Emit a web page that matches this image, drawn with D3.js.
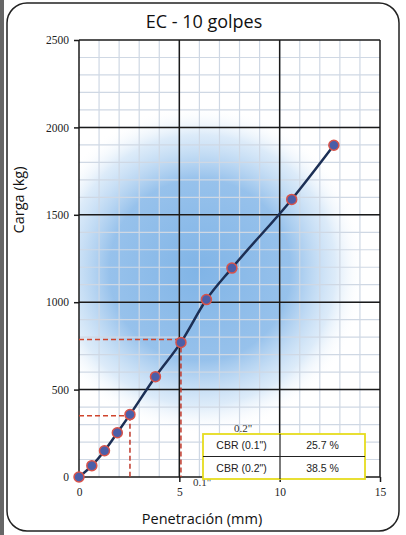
<!DOCTYPE html>
<html>
<head>
<meta charset="utf-8">
<script src="https://cdn.jsdelivr.net/npm/d3@7"></script>
<style>
  body { margin: 0; background: #fff; }
  .titulo { font-family: "Open Sans", sans-serif; font-size: 18px; fill: #111; }
  .ejeTitulo { font-family: "Open Sans", sans-serif; font-size: 14.5px; fill: #111; }
  .celda { font-family: "Liberation Sans", sans-serif; font-size: 10.5px; fill: #222; }
  .etiqueta { font-family: "Liberation Serif", serif; font-size: 11px; fill: #333; }
</style>
</head>
<body>
<div id="grafico"></div>
<script>
// datos
const penetracion = [0, 0.64, 1.27, 1.91, 2.54, 3.81, 5.08, 6.35, 7.62, 10.6, 12.7];
const carga = [0, 65, 150, 253, 357, 574, 770, 1015, 1195, 1588, 1898];
const cbrPen = [2.54, 5.08];
const cbrCarga = [350, 786];
const cbrEtiquetas = ['0.1"', '0.2"'];
const tablaFilas = ['CBR (0.1")', 'CBR (0.2")'];
const tablaValores = ['25.7 %', '38.5 %'];
const xTicks = [0, 5, 10, 15];
const yTicks = [0, 500, 1000, 1500, 2000, 2500];

const width = 406;
const height = 535;
const svg = d3.select("#grafico").append("svg")
  .attr("width", width).attr("height", height);

// marco
svg.append("rect").attr("x", 0).attr("y", 0).attr("width", 4).attr("height", height).attr("fill", "#666");
svg.append("rect")
  .attr("x", 7).attr("y", 3).attr("width", 392).attr("height", 528)
  .attr("rx", 20).attr("fill", "#fff").attr("stroke", "#222").attr("stroke-width", 1.5);

const x = d3.scaleLinear().domain([0, 15]).range([79, 380]);
const y = d3.scaleLinear().domain([0, 2500]).range([477, 40]);

const defs = svg.append("defs");
const grad = defs.append("radialGradient").attr("id", "nube")
  .attr("gradientUnits", "userSpaceOnUse")
  .attr("cx", 200).attr("cy", 270).attr("r", 165);
grad.append("stop").attr("offset", "0%").attr("stop-color", "#6aa7e2").attr("stop-opacity", 0.85);
grad.append("stop").attr("offset", "55%").attr("stop-color", "#74ade5").attr("stop-opacity", 0.75);
grad.append("stop").attr("offset", "82%").attr("stop-color", "#a8cdf0").attr("stop-opacity", 0.4);
grad.append("stop").attr("offset", "100%").attr("stop-color", "#ffffff").attr("stop-opacity", 0);

const plot = svg.append("g");
plot.append("rect")
  .attr("x", x(0)).attr("y", y(2500)).attr("width", x(15) - x(0)).attr("height", y(0) - y(2500))
  .attr("fill", "#fff");
plot.append("rect")
  .attr("x", x(0)).attr("y", y(2500)).attr("width", x(15) - x(0)).attr("height", y(0) - y(2500))
  .attr("fill", "url(#nube)");

// rejilla menor
plot.selectAll(".vmenor").data(d3.range(1, 15)).enter().append("line")
  .attr("x1", d => x(d)).attr("x2", d => x(d)).attr("y1", y(0)).attr("y2", y(2500))
  .attr("stroke", "#cfd8e4").attr("stroke-width", 1.2);
plot.selectAll(".hmenor").data(d3.range(100, 2500, 100)).enter().append("line")
  .attr("x1", x(0)).attr("x2", x(15)).attr("y1", d => y(d)).attr("y2", d => y(d))
  .attr("stroke", "#cfd8e4").attr("stroke-width", 1.2);

// rejilla mayor
plot.selectAll(".vmayor").data(xTicks).enter().append("line")
  .attr("x1", d => x(d)).attr("x2", d => x(d)).attr("y1", y(0)).attr("y2", y(2500))
  .attr("stroke", "#1a1a1a").attr("stroke-width", 1.5);
plot.selectAll(".hmayor").data(yTicks).enter().append("line")
  .attr("x1", x(0)).attr("x2", x(15)).attr("y1", d => y(d)).attr("y2", d => y(d))
  .attr("stroke", "#1a1a1a").attr("stroke-width", 1.5);

// ejes
const ejeX = svg.append("g").attr("transform", `translate(0,${y(0)})`)
  .call(d3.axisBottom(x).tickValues(xTicks).tickFormat(d3.format("d")).tickSize(5).tickPadding(6));
const ejeY = svg.append("g").attr("transform", `translate(${x(0)},0)`)
  .call(d3.axisLeft(y).tickValues(yTicks).tickFormat(d3.format("d")).tickSize(5).tickPadding(5));
[ejeX, ejeY].forEach(g => {
  g.select(".domain").remove();
  g.selectAll(".tick line").attr("stroke", "#1a1a1a").attr("stroke-width", 1.5);
  g.selectAll(".tick text")
    .attr("font-family", "'Liberation Serif', serif")
    .attr("font-size", 11.5).attr("fill", "#222");
});

// lineas CBR
cbrPen.forEach((p, i) => {
  svg.append("line")
    .attr("x1", x(0)).attr("x2", x(p)).attr("y1", y(cbrCarga[i])).attr("y2", y(cbrCarga[i]))
    .attr("stroke", "#d0452c").attr("stroke-width", 1.5).attr("stroke-dasharray", "5,3");
  svg.append("line")
    .attr("x1", x(p)).attr("x2", x(p)).attr("y1", y(cbrCarga[i])).attr("y2", y(0))
    .attr("stroke", "#c0392b").attr("stroke-width", 1.5).attr("stroke-dasharray", "5,3");
});

// curva
const linea = d3.line().x((d, i) => x(penetracion[i])).y(d => y(d)).curve(d3.curveMonotoneX);
svg.append("path").datum(carga)
  .attr("d", linea).attr("fill", "none")
  .attr("stroke", "#1c2f55").attr("stroke-width", 2.5);
svg.selectAll(".punto").data(carga).enter().append("circle")
  .attr("cx", (d, i) => x(penetracion[i])).attr("cy", d => y(d)).attr("r", 5)
  .attr("fill", "#4b5ea8").attr("stroke", "#d9534a").attr("stroke-width", 1.5);

// etiquetas 0.1" 0.2"
svg.append("text").attr("class", "etiqueta").attr("x", 193).attr("y", 486).text(cbrEtiquetas[0]);
svg.append("text").attr("class", "etiqueta").attr("x", 234).attr("y", 432).text(cbrEtiquetas[1]);

// tabla
const tx = 203, tw = 162, tm = 280, ty = 434, th = 45;
const tabla = svg.append("g");
tabla.append("rect").attr("x", tx).attr("y", ty).attr("width", tw).attr("height", th)
  .attr("fill", "#fff").attr("stroke", "#e6dc1e").attr("stroke-width", 1.8);
tabla.append("line").attr("x1", tm).attr("x2", tm).attr("y1", ty).attr("y2", ty + th)
  .attr("stroke", "#222").attr("stroke-width", 1.2);
tabla.append("line").attr("x1", tx).attr("x2", tx + tw).attr("y1", ty + th / 2).attr("y2", ty + th / 2)
  .attr("stroke", "#222").attr("stroke-width", 1.2);
tablaFilas.forEach((t, i) => {
  tabla.append("text").attr("class", "celda").attr("text-anchor", "middle")
    .attr("x", (tx + tm) / 2).attr("y", ty + th / 4 + i * th / 2 + 4).text(t);
  tabla.append("text").attr("class", "celda").attr("text-anchor", "middle")
    .attr("x", (tm + tx + tw) / 2).attr("y", ty + th / 4 + i * th / 2 + 4).text(tablaValores[i]);
});

// titulos
svg.append("text").attr("class", "titulo").attr("text-anchor", "middle")
  .attr("x", 204).attr("y", 28).text("EC - 10 golpes");
svg.append("text").attr("class", "ejeTitulo").attr("text-anchor", "middle")
  .attr("x", 202).attr("y", 524).text("Penetración (mm)");
svg.append("text").attr("class", "ejeTitulo").attr("text-anchor", "middle")
  .attr("transform", "translate(24,200) rotate(-90)").text("Carga (kg)");
</script>
</body>
</html>
